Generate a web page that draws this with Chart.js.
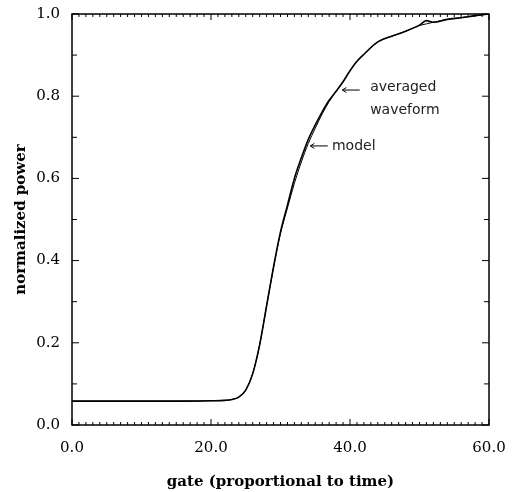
<!DOCTYPE html>
<html>
<head>
<meta charset="utf-8">
<script src="https://cdn.jsdelivr.net/npm/chart.js@4"></script>
<style>
  html, body { margin: 0; padding: 0; background: #fff; }
  #wrap { width: 515px; height: 492px; }
</style>
</head>
<body>
<div id="wrap"><canvas id="gateChart" width="515" height="492"></canvas></div>
<script>
// gate values (proportional to time)
const gates = [0, 5, 10, 15, 20, 22, 23, 24, 25, 26, 27, 28, 29, 30, 31, 32, 33, 34, 35, 36,
  37, 38, 39, 40, 41, 42, 44, 46, 48, 50, 51, 52, 54, 56, 58, 60];
// averaged waveform, normalized power
const averaged = [0.058, 0.058, 0.058, 0.058, 0.059, 0.060, 0.062, 0.068, 0.085, 0.125, 0.195, 0.290, 0.385, 0.470, 0.535, 0.600,
  0.650, 0.695, 0.730, 0.762, 0.790, 0.812, 0.835, 0.862, 0.885, 0.902, 0.932, 0.946, 0.958, 0.973, 0.984, 0.980, 0.987, 0.991, 0.996, 1.0];
// model
const model = [0.058, 0.058, 0.058, 0.058, 0.059, 0.060, 0.062, 0.068, 0.085, 0.125, 0.195, 0.290, 0.383, 0.466, 0.528, 0.588,
  0.640, 0.685, 0.722, 0.757, 0.787, 0.812, 0.835, 0.862, 0.885, 0.902, 0.932, 0.946, 0.958, 0.972, 0.976, 0.980, 0.987, 0.991, 0.996, 1.0];

const xTicks = [0, 20, 40, 60];
const yTicks = [0, 0.2, 0.4, 0.6, 0.8, 1.0];

const toPoints = (ys) => gates.map((g, i) => ({ x: g, y: ys[i] }));

// box round the plot with inward ticks on all four sides
const frame = {
  id: 'frame',
  afterDraw(chart) {
    const { ctx, chartArea: a, scales: { x, y } } = chart;
    ctx.save();
    ctx.strokeStyle = '#000';
    ctx.lineWidth = 1.5;
    ctx.strokeRect(a.left, a.top, a.right - a.left, a.bottom - a.top);
    ctx.lineWidth = 1;
    ctx.beginPath();
    for (let g = 0; g <= 60; g++) {
      const px = x.getPixelForValue(g);
      const len = g % 20 === 0 ? 6 : 3;
      ctx.moveTo(px, a.bottom); ctx.lineTo(px, a.bottom - len);
      ctx.moveTo(px, a.top); ctx.lineTo(px, a.top + len);
    }
    for (let k = 0; k <= 10; k++) {
      const py = y.getPixelForValue(k / 10);
      const len = k % 2 === 0 ? 7 : 5;
      ctx.moveTo(a.left, py); ctx.lineTo(a.left + len, py);
      ctx.moveTo(a.right, py); ctx.lineTo(a.right - len, py);
    }
    ctx.stroke();

    // annotations
    ctx.font = '14px "DejaVu Sans", sans-serif';
    ctx.fillStyle = '#222';
    ctx.textBaseline = 'middle';
    ctx.textAlign = 'left';
    const arrow = (x0, x1, yv) => {
      const p0 = x.getPixelForValue(x0), p1 = x.getPixelForValue(x1), py = y.getPixelForValue(yv);
      ctx.beginPath();
      ctx.moveTo(p0, py); ctx.lineTo(p1, py);
      ctx.moveTo(p1 + 4, py - 2.5); ctx.lineTo(p1, py); ctx.lineTo(p1 + 4, py + 2.5);
      ctx.stroke();
    };
    arrow(41.4, 38.9, 0.815);
    ctx.fillText('averaged', x.getPixelForValue(42.9), y.getPixelForValue(0.822));
    ctx.fillText('waveform', x.getPixelForValue(42.9), y.getPixelForValue(0.766));
    arrow(36.8, 34.3, 0.679);
    ctx.fillText('model', x.getPixelForValue(37.4), y.getPixelForValue(0.679));
    ctx.restore();
  }
};

const tickFont = { family: '"DejaVu Serif", serif', size: 15 };
const titleFont = { family: '"DejaVu Serif", serif', size: 15, weight: 'bold' };

new Chart(document.getElementById('gateChart').getContext('2d'), {
  type: 'line',
  data: {
    datasets: [
      {
        label: 'averaged waveform',
        data: toPoints(averaged),
        borderColor: '#000',
        borderWidth: 1.6,
        pointRadius: 0,
        cubicInterpolationMode: 'monotone'
      },
      {
        label: 'model',
        data: toPoints(model),
        borderColor: '#000',
        borderWidth: 1,
        pointRadius: 0,
        cubicInterpolationMode: 'monotone'
      }
    ]
  },
  options: {
    responsive: false,
    animation: false,
    layout: { padding: { top: 14, right: 26, left: 0, bottom: 0 } },
    plugins: { legend: { display: false }, tooltip: { enabled: false } },
    scales: {
      x: {
        type: 'linear',
        min: 0,
        max: 60,
        afterBuildTicks: (s) => { s.ticks = xTicks.map(v => ({ value: v })); },
        afterFit: (s) => { s.height = 67; s.paddingLeft = 0; s.paddingRight = 0; },
        grid: { display: false, drawTicks: false },
        border: { display: false },
        ticks: { color: '#000', font: tickFont, padding: 14, maxRotation: 0, callback: (v) => v.toFixed(1) },
        title: {
          display: true,
          text: 'gate (proportional to time)',
          color: '#000',
          font: titleFont,
          padding: { top: 0, bottom: 1 }
        }
      },
      y: {
        min: 0,
        max: 1,
        afterBuildTicks: (s) => { s.ticks = yTicks.map(v => ({ value: v })); },
        afterFit: (s) => { s.width = 72; s.paddingTop = 0; s.paddingBottom = 0; },
        grid: { display: false, drawTicks: false },
        border: { display: false },
        ticks: { color: '#000', font: tickFont, padding: 12, callback: (v) => v.toFixed(1) },
        title: {
          display: true,
          text: 'normalized power',
          color: '#000',
          font: titleFont,
          padding: { top: 12, bottom: 0 }
        }
      }
    }
  },
  plugins: [frame]
});
</script>
</body>
</html>
